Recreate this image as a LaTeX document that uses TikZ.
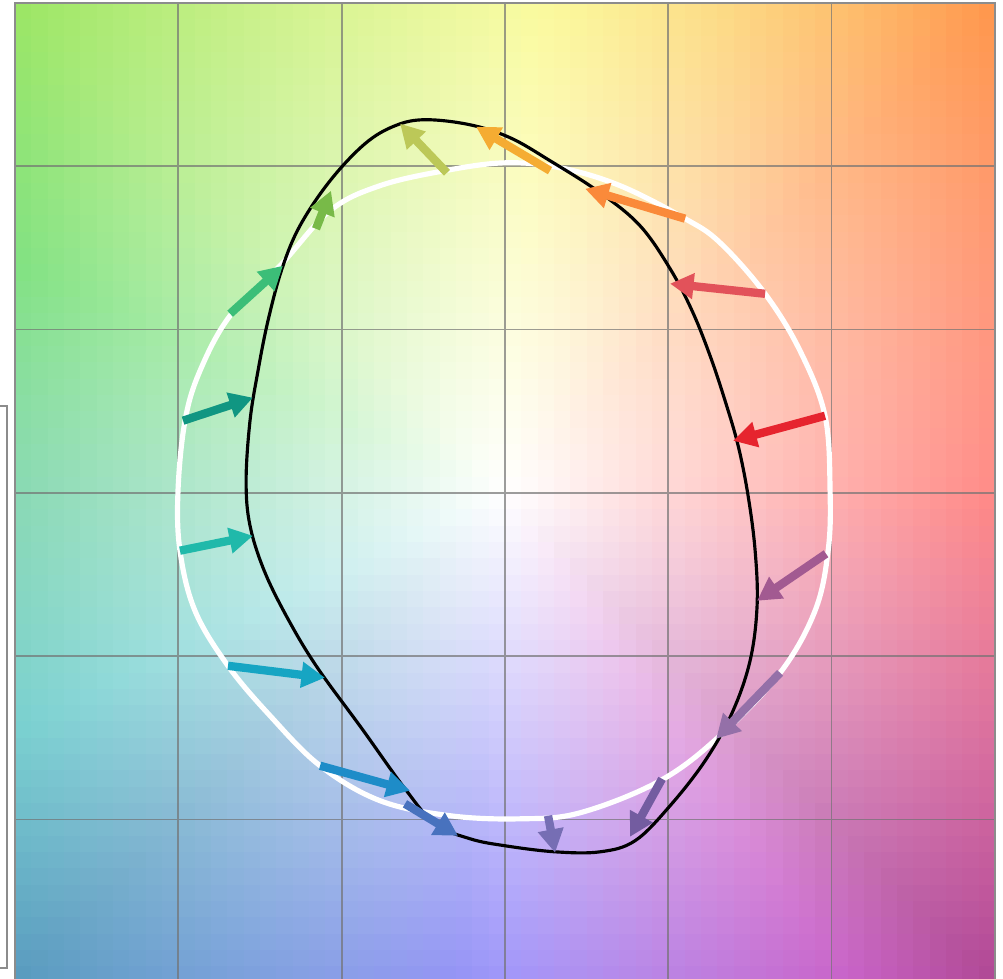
\documentclass[tikz,border=0pt]{standalone}
\usetikzlibrary{arrows.meta}

\definecolor{vOlive}{RGB}{188,200,88}
\definecolor{vAmber}{RGB}{245,172,50}
\definecolor{vOrange}{RGB}{250,138,58}
\definecolor{vCoral}{RGB}{226,82,90}
\definecolor{vRed}{RGB}{230,36,46}
\definecolor{vMauve}{RGB}{162,90,145}
\definecolor{vLilac}{RGB}{148,112,168}
\definecolor{vPlum}{RGB}{115,92,160}
\definecolor{vLavender}{RGB}{118,110,180}
\definecolor{vCobalt}{RGB}{72,114,190}
\definecolor{vAzure}{RGB}{30,140,200}
\definecolor{vCyan}{RGB}{22,165,195}
\definecolor{vTurq}{RGB}{32,185,170}
\definecolor{vTeal}{RGB}{16,150,130}
\definecolor{vJade}{RGB}{60,190,120}
\definecolor{vLeaf}{RGB}{120,186,72}

\tikzset{
  gridline/.style={draw=black!55, line width=0.3pt, opacity=0.7},
  frameline/.style={draw=black!45, line width=0.4pt},
  whitepath/.style={white, line width=0.9pt},
  blackpath/.style={black, line width=0.55pt},
  vec/.style={line width=1.45pt, -{Triangle[length=4.1pt,width=4.3pt]}},
}

% hue, saturation and darkening at 0,45,...,360 degrees
\def\huetab{{0.005,0.07,0.176,0.263,0.422,0.558,0.683,0.875,1.005}}
\def\sattab{{0.47,0.50,0.36,0.40,0.37,0.38,0.40,0.42,0.47}}
\def\drktab{{0,0,0.02,0.07,0.15,0.18,0.02,0.22,0}}

\begin{document}
\begin{tikzpicture}
    \useasboundingbox (-0.092,0.029) rectangle (6.050,6.018);

    % background colour field
    \foreach \i in {0,...,59}{
      \foreach \j in {0,...,59}{
        \pgfmathsetmacro{\dx}{(\i+0.5)/10-3}
        \pgfmathsetmacro{\dy}{(\j+0.5)/10-3}
        \pgfmathsetmacro{\ang}{mod(atan2(\dy,\dx)+360,360)}
        \pgfmathsetmacro{\rr}{veclen(\dx,\dy)/3}
        \pgfmathtruncatemacro{\kk}{min(floor(\ang/45),7)}
        \pgfmathtruncatemacro{\kn}{\kk+1}
        \pgfmathsetmacro{\fr}{\ang/45-\kk}
        \pgfmathsetmacro{\hv}{mod(\huetab[\kk]*(1-\fr)+\huetab[\kn]*\fr,1)}
        \pgfmathsetmacro{\sv}{min(1,\rr*(\sattab[\kk]*(1-\fr)+\sattab[\kn]*\fr))}
        \pgfmathsetmacro{\bv}{max(0,1-\rr*(\drktab[\kk]*(1-\fr)+\drktab[\kn]*\fr))}
        \definecolor{bgc}{hsb}{\hv,\sv,\bv}
        \fill[bgc] (\i/10,\j/10) rectangle ++(0.106,0.106);
      }
    }

    % grid and frame
    \draw[gridline] (0,0) grid (6,6);
    \draw[frameline] (0,0) rectangle (6,6);
    \draw[frameline] (-0.092,3.533) -- (-0.049,3.533) -- (-0.049,0.092) -- (-0.092,0.092);

    % white curve
    \draw[whitepath] plot[smooth cycle, tension=0.6] coordinates {
      (3.001,5.021) (3.337,4.991) (3.705,4.881) (4.103,4.679) (4.317,4.532)
      (4.593,4.219) (4.807,3.870) (4.960,3.472) (4.991,3.013) (4.979,2.646)
      (4.899,2.278) (4.685,1.898) (4.317,1.513) (3.950,1.237) (3.460,1.041)
      (3.093,1.004) (2.664,1.023) (2.235,1.115) (1.868,1.329) (1.562,1.635)
      (1.304,1.941) (1.102,2.278) (1.010,2.646) (0.998,3.013) (1.041,3.442)
      (1.133,3.748) (1.317,4.085) (1.623,4.391) (1.929,4.728) (2.235,4.881)
      (2.633,4.973)};

    % black curve
    \draw[blackpath] plot[smooth cycle, tension=0.6] coordinates {
      (2.511,5.285) (2.786,5.254) (3.031,5.175) (3.276,5.034) (3.583,4.838)
      (3.827,4.636) (4.011,4.373) (4.146,4.115) (4.256,3.840) (4.348,3.564)
      (4.428,3.289) (4.489,2.982) (4.532,2.646) (4.544,2.309) (4.501,1.972)
      (4.391,1.653) (4.226,1.360) (4.011,1.084) (3.797,0.870) (3.583,0.802)
      (3.307,0.802) (3.001,0.839) (2.786,0.882) (2.572,0.974) (2.388,1.188)
      (2.125,1.555) (1.856,1.923) (1.684,2.205) (1.531,2.511)
      (1.439,2.799) (1.415,3.074) (1.439,3.442) (1.488,3.748) (1.549,4.054)
      (1.635,4.373) (1.745,4.636) (1.929,4.911) (2.143,5.138) (2.327,5.248)};

    % arrows from the white curve to the black curve
    \foreach \sx/\sy/\tx/\ty/\col [count=\n] in {
        2.645/4.960/2.358/5.261/vOlive,
        3.276/4.973/2.823/5.242/vAmber,
        4.103/4.679/3.491/4.862/vOrange,
        4.593/4.219/4.011/4.281/vCoral,
        4.960/3.472/4.397/3.319/vRed,
        4.966/2.627/4.544/2.339/vMauve,
        4.685/1.898/4.293/1.494/vLilac,
        3.962/1.249/3.766/0.894/vPlum,
        3.264/1.023/3.307/0.796/vLavender,
        2.388/1.096/2.713/0.900/vCobalt,
        1.868/1.329/2.419/1.176/vAzure,
        1.304/1.941/1.898/1.868/vCyan,
        1.010/2.646/1.457/2.737/vTurq,
        1.029/3.442/1.457/3.583/vTeal,
        1.317/4.097/1.641/4.391/vJade,
        1.843/4.617/1.935/4.850/vLeaf}{
      \coordinate (w\n) at (\sx,\sy);
      \coordinate (k\n) at (\tx,\ty);
      \draw[vec,\col] (w\n) -- (k\n);
    }
\end{tikzpicture}
\end{document}
